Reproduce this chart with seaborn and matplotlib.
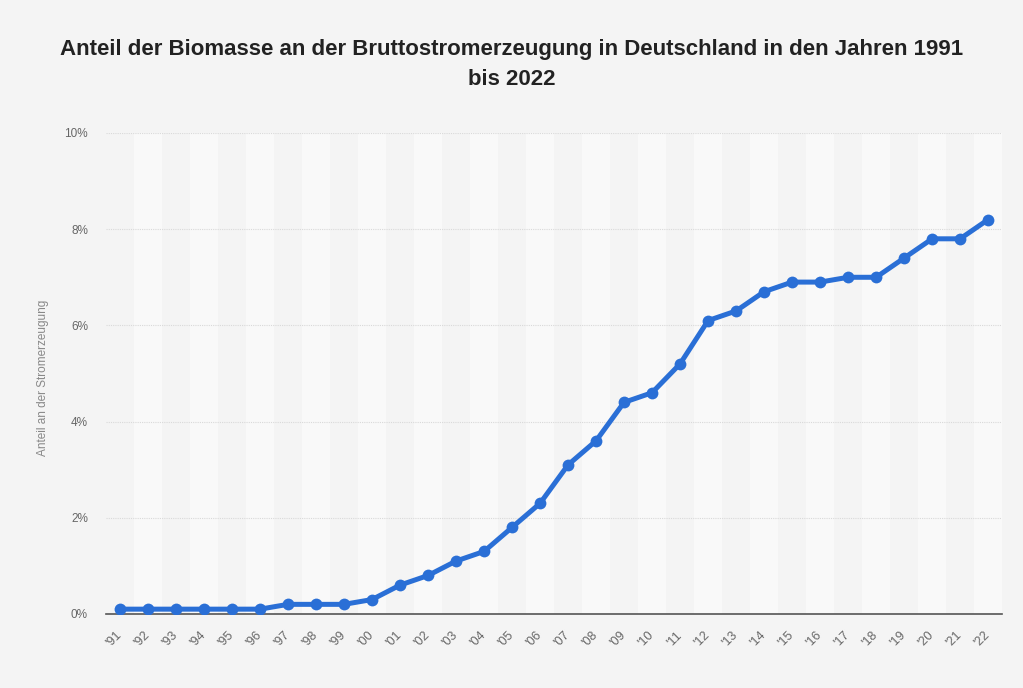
import matplotlib
matplotlib.use("Agg")
import matplotlib.pyplot as plt
import seaborn as sns
import pandas as pd

years = ["'91", "'92", "'93", "'94", "'95", "'96", "'97", "'98", "'99", "'00",
         "'01", "'02", "'03", "'04", "'05", "'06", "'07", "'08", "'09", "'10",
         "'11", "'12", "'13", "'14", "'15", "'16", "'17", "'18", "'19", "'20",
         "'21", "'22"]
share = [0.1, 0.1, 0.1, 0.1, 0.1, 0.1, 0.2, 0.2, 0.2, 0.3,
         0.6, 0.8, 1.1, 1.3, 1.8, 2.3, 3.1, 3.6, 4.4, 4.6,
         5.2, 6.1, 6.3, 6.7, 6.9, 6.9, 7.0, 7.0, 7.4, 7.8,
         7.8, 8.2]
yticks = [0, 2, 4, 6, 8, 10]

df = pd.DataFrame({"Jahr": years, "Anteil": share})
df["pos"] = range(len(years))

sns.set_theme(style="white")
plt.rcParams["font.family"] = ["Liberation Sans", "DejaVu Sans"]

bg = "#f4f4f4"
fig = plt.figure(figsize=(10.23, 6.88), dpi=100, facecolor=bg)
ax = fig.add_axes([0.1036, 0.1076, 0.876, 0.6991])
ax.set_facecolor(bg)

# alternating bands
for i in range(len(years)):
    if i % 2 == 1:
        ax.axvspan(i - 0.5, i + 0.5, color="#f9f9f9", zorder=0, lw=0)

for t in yticks[1:]:
    ax.axhline(t, color="#d9d9d9", lw=0.8, ls=(0, (1, 1)), zorder=1)

sns.lineplot(data=df, x="pos", y="Anteil", ax=ax, color="#2a6fd6", lw=3.6,
             marker="o", markersize=8.5, markeredgewidth=0, zorder=3)

ax.set_xlim(-0.5, len(years) - 0.5)
ax.set_ylim(0, 10)
ax.set_xticks(range(len(years)))
ax.set_xticklabels(years, rotation=45, ha="right", va="center",
                   rotation_mode="anchor", fontsize=9, color="#666666")
ax.set_yticks(yticks)
ax.set_yticklabels([f"{t}%" for t in yticks], fontsize=8.5, color="#666666")
ax.tick_params(axis="both", length=0)
ax.tick_params(axis="x", pad=14)
ax.tick_params(axis="y", pad=13)
ax.set_xlabel("")
ax.set_ylabel("Anteil an der Stromerzeugung", fontsize=8.5, color="#888888")
ax.yaxis.set_label_coords(-0.064, 0.49)
for s in ["top", "right", "left"]:
    ax.spines[s].set_visible(False)
ax.spines["bottom"].set_color("#555555")
ax.spines["bottom"].set_linewidth(1.2)

fig.text(0.5, 0.943,
         "Anteil der Biomasse an der Bruttostromerzeugung in Deutschland in den Jahren 1991\nbis 2022",
         ha="center", va="top", fontsize=16, fontweight="bold", color="#222222",
         linespacing=1.55)

fig.savefig("out.png", dpi=100, facecolor=bg)
